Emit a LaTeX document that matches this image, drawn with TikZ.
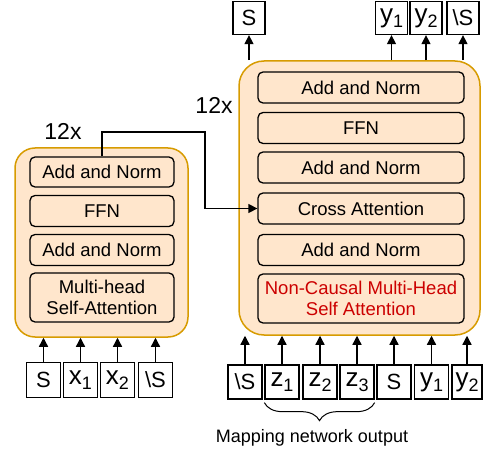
\documentclass[tikz,border=0pt]{standalone}
\usepackage{fontspec}
\setmainfont{Liberation Sans}
\usetikzlibrary{arrows.meta,decorations.pathreplacing}
\definecolor{peach}{HTML}{FFE6CC}
\definecolor{orangeb}{HTML}{D79B00}
\definecolor{redt}{HTML}{CC0000}
\newcommand\mytsub[2]{{\fontsize{26}{26}\selectfont #1}\raisebox{-5pt}{\fontsize{18}{18}\selectfont #2}}
\begin{document}
\begin{tikzpicture}[x=1pt,y=-1pt,
  container/.style={draw=orangeb, fill=peach, line width=1.5pt, rounded corners=20pt, inner sep=0pt},
  layer/.style={draw=black, fill=peach, line width=1.3pt, rounded corners=5pt,
    font=\fontsize{18.5}{21}\selectfont, align=center, inner sep=0pt},
  tok/.style={draw=black, fill=white, line width=1.3pt,
    font=\fontsize{22}{24}\selectfont, inner sep=0pt},
  arr/.style={line width=1.3pt, -{Triangle[length=9pt,width=9pt]}},
  lbl/.style={font=\fontsize{23}{25}\selectfont, inner sep=0pt},
  brc/.style={line width=1pt, decorate, decoration={brace, mirror, amplitude=18pt}}]
\useasboundingbox (0,0) rectangle (489,454);

% containers
\node[container, minimum width=173pt, minimum height=189pt] (lc) at (101.5,242.5) {};
\node[container, minimum width=241pt, minimum height=274pt, rounded corners=25pt] (rc) at (359.5,198) {};

% left layers
\node[layer, minimum width=144pt, minimum height=30pt] (la1) at (102,172) {Add and Norm};
\node[layer, minimum width=144pt, minimum height=31pt] (la2) at (102,211) {FFN};
\node[layer, minimum width=144pt, minimum height=31pt] (la3) at (102,250) {Add and Norm};
\node[layer, minimum width=144pt, minimum height=49pt] (la4) at (102,297.5) {Multi-head\\Self-Attention};

% right layers
\node[layer, minimum width=206pt, minimum height=31pt] (ra1) at (361,87.5) {Add and Norm};
\node[layer, minimum width=206pt, minimum height=31pt] (ra2) at (361,128) {FFN};
\node[layer, minimum width=206pt, minimum height=31pt] (ra3) at (361,167.5) {Add and Norm};
\node[layer, minimum width=206pt, minimum height=31pt] (ra4) at (361,208.5) {Cross Attention};
\node[layer, minimum width=206pt, minimum height=31pt] (ra5) at (361,250) {Add and Norm};
\node[layer, minimum width=206pt, minimum height=49pt, text=redt] (ra6) at (361,298.5) {Non-Causal Multi-Head\\Self Attention};

% labels
\node[lbl] (n1) at (63,131) {12x};
\node[lbl] (n2) at (214,105) {12x};

% top tokens
\node[tok, minimum width=32pt, minimum height=33pt] (tS) at (249,18) {S};
\node[tok, minimum width=32pt, minimum height=33pt] (ty1) at (391.5,18) {\mytsub{y}{1}};
\node[tok, minimum width=32pt, minimum height=33pt] (ty2) at (426,18) {\mytsub{y}{2}};
\node[tok, minimum width=32pt, minimum height=33pt] (tE) at (463,18) {\textbackslash S};

\draw[arr] (tS.south |- rc.north) -- (tS.south);
\draw[arr] (ty1.south |- rc.north) -- (ty1.south);
\draw[arr] (ty2.south |- rc.north) -- (ty2.south);
\draw[arr] (tE.south |- rc.north) -- (tE.south);

% bottom right tokens
\node[tok, minimum width=34pt, minimum height=34pt] (bE) at (245,382) {\textbackslash S};
\node[tok, minimum width=34pt, minimum height=34pt] (z1) at (282,382) {\mytsub{z}{1}};
\node[tok, minimum width=34pt, minimum height=34pt] (z2) at (320,382) {\mytsub{z}{2}};
\node[tok, minimum width=34pt, minimum height=34pt] (z3) at (357,382) {\mytsub{z}{3}};
\node[tok, minimum width=34pt, minimum height=34pt] (bS) at (394,382) {S};
\node[tok, minimum width=34pt, minimum height=34pt] (by1) at (431.5,382) {\mytsub{y}{1}};
\node[tok, minimum width=30pt, minimum height=34pt] (by2) at (467,382) {\mytsub{y}{2}};

\foreach \t in {bE,z1,z2,z3,bS,by1,by2}
  \draw[arr] (\t.north) -- (\t.north |- rc.south);

% bottom left tokens
\node[tok, minimum width=34pt, minimum height=35pt] (lS) at (43.5,380) {S};
\node[tok, minimum width=34pt, minimum height=35pt] (x1) at (80.5,380) {\mytsub{x}{1}};
\node[tok, minimum width=34pt, minimum height=35pt] (x2) at (117.5,380) {\mytsub{x}{2}};
\node[tok, minimum width=34pt, minimum height=35pt] (lE) at (155.5,380) {\textbackslash S};

\foreach \t in {lS,x1,x2,lE}
  \draw[arr] (\t.north) -- (\t.north |- lc.south);

% brace and caption
\draw[brc] ([yshift=-3pt]z1.south west) -- ([yshift=-3pt]z3.south east);
\node[font=\fontsize{18}{21}\selectfont, inner sep=0pt] (cap) at (312,438) {Mapping network output};

% cross connection
\coordinate (bend) at (205,132);
\draw[arr] (la1.north) |- (bend) |- (ra4.west);
\end{tikzpicture}
\end{document}
